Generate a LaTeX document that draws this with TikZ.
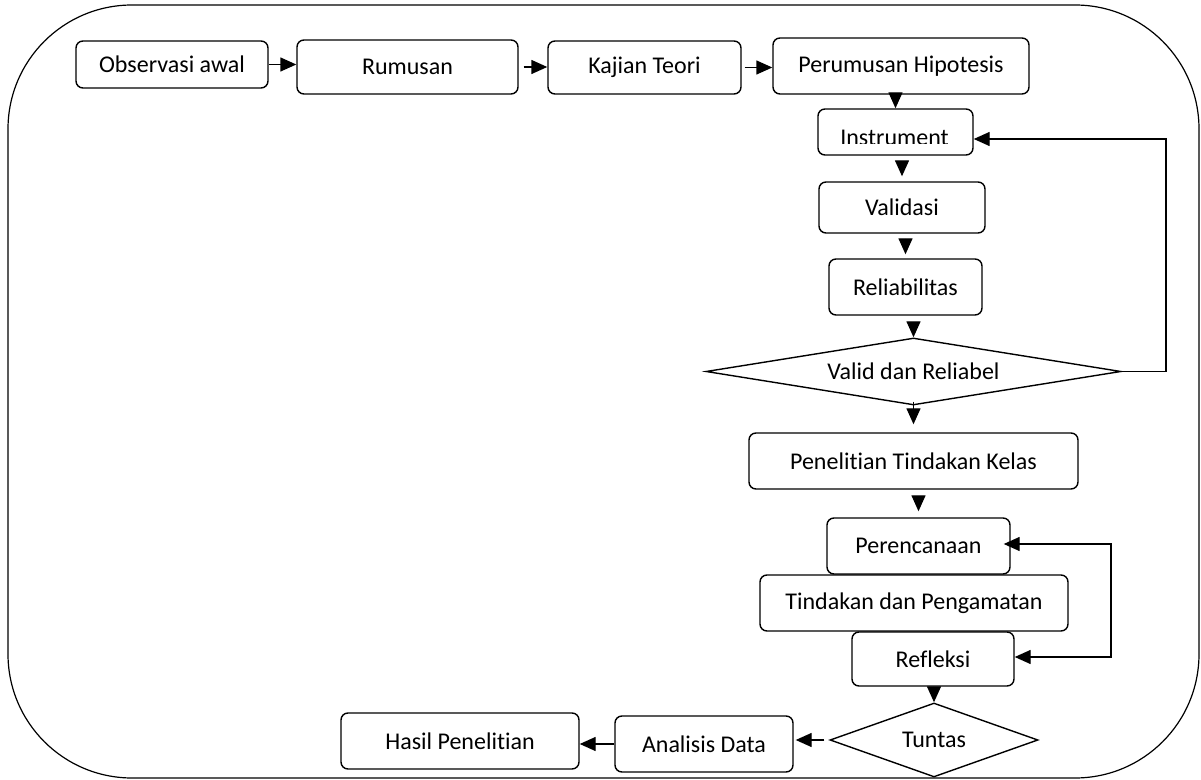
\documentclass[tikz,border=0pt]{standalone}
\usepackage{fontspec}
\setmainfont{Carlito}[Ligatures=NoCommon]
\usetikzlibrary{shapes.geometric,arrows.meta}

\begin{document}
\begin{tikzpicture}[x=0.5pt, y=-0.5pt, line width=0.7pt,
  every node/.style={font=\fontsize{12}{14}\selectfont},
  box/.style={draw, rounded corners=3.5pt, inner sep=0pt},
  decision/.style={draw, diamond, inner sep=0pt},
  arr/.style={-{Triangle[length=8pt,width=7pt]}}]

\useasboundingbox (0,0) rectangle (1201,780);
\draw[line width=0.6pt, rounded corners=62pt] (8,5) rectangle (1199,778);

% top row
\node[box, minimum width=96pt, minimum height=23.5pt] (obs) at (172,64.5) {Observasi awal};
\node[box, minimum width=110.5pt, minimum height=27pt] (rum) at (407.5,67) {Rumusan};
\node[box, minimum width=96.5pt, minimum height=26.5pt] (kaj) at (644.5,67.5) {Kajian Teori};
\node[box, minimum width=128pt, minimum height=28pt] (hip) at (901,66) {Perumusan Hipotesis};

% instrument column
\node[box, minimum width=77.5pt, minimum height=23pt] (ins) at (895.5,132) {};
\begin{scope}
\clip (818,109) rectangle (973,143.5);
\node[anchor=base, inner sep=0pt] (instxt) at (894.5,145.5) {Instrument};
\end{scope}
\node[box, minimum width=83pt, minimum height=25.5pt] (val) at (902,207.5) {Validasi};
\node[box, minimum width=76.5pt, minimum height=28pt] (rel) at (905.5,287) {Reliabilitas};
\node[decision, shape aspect=6.2, minimum width=207.5pt, minimum height=33.5pt] (vdr) at (913.5,371.5) {Valid dan Reliabel};

% PTK cycle
\node[box, minimum width=164.5pt, minimum height=28pt] (ptk) at (913.5,461) {Penelitian Tindakan Kelas};
\node[box, minimum width=91.5pt, minimum height=28pt] (per) at (918.5,546) {Perencanaan};
\node[box, minimum width=154pt, minimum height=28pt] (tdp) at (914,603) {Tindakan dan Pengamatan};
\node[box, minimum width=81pt, minimum height=27pt] (ref) at (933,659) {Refleksi};
\node[decision, shape aspect=2.8, minimum width=104pt, minimum height=37pt] (tun) at (934,740) {Tuntas};

% bottom row
\node[box, minimum width=89pt, minimum height=28pt] (ana) at (704,744) {Analisis Data};
\node[box, minimum width=119pt, minimum height=28pt] (has) at (460,741) {Hasil Penelitian};

% arrows
\draw[arr] (obs.east) -- (obs.east -| rum.west);
\draw[arr, shorten <=2.5pt] (rum.east) -- (rum.east -| kaj.west);
\draw[arr, shorten <=1.5pt] (kaj.east) -- (kaj.east -| hip.west);
\draw[arr] (hip.south -| ins.north) -- (ins.north);
\draw[arr, shorten <=3.5pt, shorten >=2.5pt] (val.north |- ins.south) -- (val.north);
\draw[arr, shorten <=2.5pt, shorten >=2pt] (rel.north |- val.south) -- (rel.north);
\draw[arr, shorten <=3.5pt] (vdr.north |- rel.south) -- (vdr.north);
\draw[arr, shorten <=-2pt, shorten >=4pt] (vdr.south) -- (ptk.north);
\draw[arr, shorten <=4pt, shorten >=3pt] (ptk.south -| per.north) -- (per.north);
\draw[arr] (tun.north |- ref.south) -- (tun.north);
\draw[arr, shorten <=2.5pt, shorten >=1pt] (tun.west) -- (tun.west -| ana.east);
\draw[arr] (ana.west) -- (ana.west -| has.east);

% feedback loops
\coordinate (vback) at (1166,139);
\draw[arr] (vdr.east) -| (vback) -- (vback -| ins.east);
\coordinate (rtop) at (1111,544);
\coordinate (rbot) at (1111,657);
\draw[{Triangle[length=8pt,width=7pt]}-{Triangle[length=8pt,width=7pt]}, shorten <=-3.5pt] (rtop -| per.east) -- (rtop) -- (rbot) -- (rbot -| ref.east);
\end{tikzpicture}
\end{document}
